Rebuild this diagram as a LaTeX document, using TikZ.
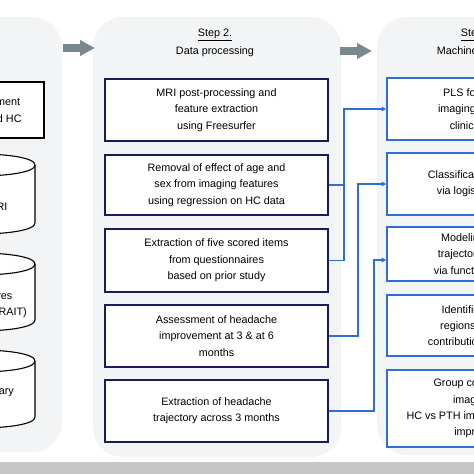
\documentclass[tikz,border=0pt]{standalone}
\usepackage{fontspec}
\setmainfont{Liberation Sans}
\usetikzlibrary{arrows.meta,calc}
\definecolor{navy}{HTML}{1B1B5C}
\definecolor{conblue}{HTML}{2F6FD3}
\definecolor{panel}{HTML}{F3F4F5}
\definecolor{garrow}{HTML}{7A8890}
\definecolor{barg}{HTML}{C6C6C6}
\begin{document}
\begin{tikzpicture}[x=1pt,y=-1pt,
  font=\fontsize{10.8}{16.3}\selectfont,
  panelbox/.style={fill=panel,draw=none,rounded corners=30pt},
  procbox/.style={draw=navy,line width=1.8pt,fill=white,minimum width=223pt,align=center,inner sep=0pt},
  mlbox/.style={draw=conblue,line width=1.6pt,fill=white,minimum width=182pt,align=center,inner sep=0pt},
  oneBox/.style={draw=black,line width=1.6pt,fill=white,minimum width=106pt,minimum height=56pt,align=center,inner sep=0pt},
  cyl/.style={draw=black,line width=1.1pt,fill=white},
  conn/.style={draw=conblue,line width=1.4pt,-{Triangle[length=4.5pt,width=4.5pt]}},
  connline/.style={draw=conblue,line width=1.4pt},
  grayarrow/.style={draw=garrow,line width=7.5pt,-{Triangle[length=15pt,width=15pt]}},
  txt/.style={align=center,inner sep=0pt}
]
\useasboundingbox (0,0) rectangle (474,474);
\clip (0,0) rectangle (474,474);
\fill[white] (0,0) rectangle (474,474);

% panels
\path[panelbox] (-200,17) rectangle (62,452);
\path[panelbox] (93,17) rectangle (341,457);
\path[panelbox] (377,17) rectangle (640,455);
\fill[barg] (0,462) rectangle (474,474);

% gray arrows between panels
\coordinate (ga1s) at (63,48);
\coordinate (ga1e) at (95,48);
\draw[grayarrow] (ga1s) -- (ga1e);
\coordinate (ga2s) at (340,51);
\coordinate (ga2e) at (372,51);
\draw[grayarrow] (ga2s) -- (ga2e);

% Step 1 (partially visible)
\node[oneBox] (rec) at (-9,110) {Recruitment\\PTH and HC};

\filldraw[cyl] (-77,165) -- (-77,223) .. controls (-77,237.67) and (35,237.67) .. (35,223) -- (35,165) .. controls (35,150.33) and (-77,150.33) .. cycle;
\draw[cyl,fill=none] (35,165) .. controls (35,179.67) and (-77,179.67) .. (-77,165);
\node[txt] (mri) at (-27,207) {Structural MRI};

\filldraw[cyl] (-77,264) -- (-77,320) .. controls (-77,334.67) and (35,334.67) .. (35,320) -- (35,264) .. controls (35,249.33) and (-77,249.33) .. cycle;
\draw[cyl,fill=none] (35,264) .. controls (35,278.67) and (-77,278.67) .. (-77,264);
\node[txt] (quest) at (-24,305) {Questionnaires\\(STAI-STATE/TRAIT)};

\filldraw[cyl] (-77,361) -- (-77,417) .. controls (-77,431.67) and (35,431.67) .. (35,417) -- (35,361) .. controls (35,346.33) and (-77,346.33) .. cycle;
\draw[cyl,fill=none] (35,361) .. controls (35,375.67) and (-77,375.67) .. (-77,361);
\node[txt] (diary) at (-24,392) {Headache diary};

% Step 2
\node[txt] (t2a) at (215,35) {\underline{Step 2.}};
\node[txt] (t2b) at (215,52) {Data processing};
\node[procbox,minimum height=62pt] (b1) at (216.5,110) {MRI post-processing and\\feature extraction\\using Freesurfer};
\node[procbox,minimum height=60pt] (b2) at (216.5,185) {Removal of effect of age and\\sex from imaging features\\using regression on HC data};
\node[procbox,minimum height=63pt] (b3) at (216.5,260.5) {Extraction of five scored items\\from questionnaires\\based on prior study};
\node[procbox,minimum height=62pt] (b4) at (216.5,336) {Assessment of headache\\improvement at 3 \& at 6\\months};
\node[procbox,minimum height=62pt] (b5) at (216.5,411) {Extraction of headache\\trajectory across 3 months};

% Step 3
\node[txt] (t3a) at (478,35) {\underline{Step 3.}};
\node[txt] (t3b) at (478,52) {Machine learning};
\node[mlbox,minimum height=62pt] (s1) at (478,109) {PLS for linking\\imaging features\\clinical data};
\node[mlbox,minimum height=62pt] (s2) at (478,184) {Classification of PTH\\via logistic model};
\node[mlbox,minimum height=54pt] (s3) at (478,254) {Modeling of the\\trajectory groups\\via functional PCA};
\node[mlbox,minimum height=61pt] (s4) at (478,325.5) {Identification of\\regions with the\\contribution to model};
\node[mlbox,minimum height=77pt] (s5) at (478,408.5) {Group comparison\\imaging of\\HC vs PTH improvers vs non-\\improvers};

% connectors
\draw[conn] (b3.east) -- ++(15,0) coordinate (j1) |- (s1.west);
\draw[connline] (b2.east) -- (b2.east -| j1);
\draw[conn] (b4.east) -- ++(29,0) |- (s2.west);
\draw[conn] (b5.east) -- ++(45,0) |- ($(s3.west)+(0,6)$);
\end{tikzpicture}
\end{document}
